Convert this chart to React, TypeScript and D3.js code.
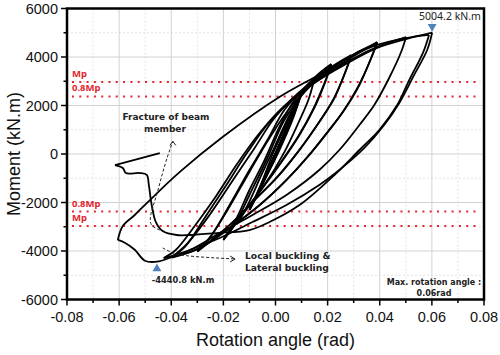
import React from 'react';
import * as d3 from 'd3';

const W = 500;
const H = 355;

// ---------- axis data ----------
const xTicks = [-0.08, -0.06, -0.04, -0.02, 0, 0.02, 0.04, 0.06, 0.08];
const xMinor = [-0.07, -0.05, -0.03, -0.01, 0.01, 0.03, 0.05, 0.07];
const yTicks = [-6000, -4000, -2000, 0, 2000, 4000, 6000];
const yMinor = [-5000, -3000, -1000, 1000, 3000, 5000];

// ---------- reference moment levels ----------
const refLabels = ['Mp', '0.8Mp', '0.8Mp', 'Mp'];
const refValues = [2970, 2376, -2376, -2970];

// ---------- hysteresis (rotation rad, moment kN.m) ----------
const smallCycles: [number, number][] = [
  [0, 0], [0.0038, 900], [-0.0038, -880], [0.005, 1200], [-0.005, -1180], [0.0075, 1800], [-0.0075, -1760],
];
const cycle010: [number, number][] = [
  [-0.003, -700], [0.002, 500], [0.0065, 1550], [0.01, 2515],
  [0.0065, 1400], [0.0015, 165], [-0.0042, -1070], [-0.01, -2310],
  [-0.0061, -1485], [-0.0011, -250], [0.0046, 1195], [0.01, 2480],
  [0.006, 1350], [0.001, 100], [-0.0045, -1150], [-0.01, -2290],
];
const cycle015: [number, number][] = [
  [-0.0054, -1195], [-0.0004, 165], [0.0054, 1485], [0.0103, 2555], [0.0149, 3095],
  [0.0126, 2225], [0.0084, 1195], [0.0034, 80], [-0.0042, -1280], [-0.01, -2105], [-0.0149, -2885],
];
const cycle020: [number, number][] = [
  [-0.0107, -2105], [-0.0054, -865], [0, 370], [0.0054, 1610], [0.0111, 2640], [0.0161, 3260], [0.0214, 3710],
  [0.0191, 2970], [0.0149, 1900], [0.0092, 785], [0.0015, -455], [-0.0061, -1565], [-0.0138, -2640], [-0.0199, -3505],
  [-0.0153, -2720], [-0.01, -1485], [-0.0042, -250], [0.0015, 1115], [0.0073, 2225], [0.0149, 3135], [0.0214, 3670],
  [0.0188, 2930], [0.0145, 1860], [0.0088, 740], [0.001, -500], [-0.0065, -1600], [-0.014, -2680], [-0.02, -3545],
];
const cycle030: [number, number][] = [
  [-0.0157, -2930], [-0.01, -1690], [-0.0031, -165], [0.0034, 1400], [0.0111, 2555], [0.0199, 3465], [0.0291, 4080],
  [0.0268, 3380], [0.0226, 2310], [0.0168, 1320], [0.0092, 165], [0.0015, -865], [-0.008, -1900], [-0.0176, -2930], [-0.0299, -4000],
  [-0.0245, -3340], [-0.0176, -2105], [-0.01, -660], [-0.0031, 575], [0.0034, 1815], [0.0111, 2720], [0.0199, 3465], [0.0291, 4040],
  [0.0265, 3300], [0.0222, 2250], [0.0163, 1250], [0.0088, 120], [0.001, -900], [-0.0085, -1950], [-0.018, -2970], [-0.03, -4020],
];
const cycle040: [number, number][] = [
  [-0.0253, -3465], [-0.0184, -2310], [-0.01, -740], [-0.0023, 660], [0.0061, 1980], [0.0161, 3050], [0.0264, 3795], [0.039, 4620],
  [0.0367, 3960], [0.0322, 2845], [0.0264, 1815], [0.0207, 990], [0.013, -40], [0.0042, -1070], [-0.0061, -2105], [-0.0176, -3050], [-0.0291, -3875], [-0.0398, -4250],
  [-0.0337, -3670], [-0.0253, -2515], [-0.0168, -1155], [-0.008, 250], [-0.0004, 1485], [0.0092, 2555], [0.0207, 3465], [0.0302, 4125], [0.039, 4580],
  [0.0365, 3900], [0.0318, 2800], [0.026, 1760], [0.0202, 940], [0.0125, -90], [0.0038, -1120], [-0.0065, -2150], [-0.018, -3090], [-0.0295, -3900], [-0.0398, -4270],
];
const cycle050: [number, number][] = [
  [-0.0345, -3795], [-0.0272, -2640], [-0.0191, -1320], [-0.0107, 80], [-0.0023, 1320], [0.0077, 2350], [0.0188, 3215], [0.0302, 3960], [0.0398, 4450], [0.0501, 4825],
  [0.0482, 4205], [0.0436, 3135], [0.0379, 2020], [0.0322, 1195], [0.0245, 165], [0.0168, -660], [0.0042, -1690], [-0.0088, -2515], [-0.0214, -3260], [-0.0329, -3960], [-0.0429, -4290],
];
const cycle060a: [number, number][] = [
  [-0.0383, -3960], [-0.031, -2970], [-0.0233, -1815], [-0.0145, -370], [-0.0061, 865], [0.0034, 1980], [0.0149, 2930], [0.0264, 3670], [0.039, 4370], [0.0501, 4740], [0.0601, 5004],
  [0.0582, 4290], [0.0532, 3260], [0.0475, 2105], [0.0417, 1195], [0.0341, 250], [0.0245, -660], [0.0168, -1280], [0.0042, -2105], [-0.0088, -2805], [-0.0214, -3465], [-0.0329, -3960], [-0.0398, -4250], [-0.0455, -4441], [-0.0501, -4400],
  [-0.054, -3950], [-0.058, -3650], [-0.0605, -3545],
];
const cycle060b: [number, number][] = [
  [-0.0586, -2970], [-0.054, -2515], [-0.0482, -1900], [-0.0367, -740], [-0.0203, 700], [0.0015, 2350], [0.018, 3340], [0.0291, 4040], [0.039, 4500], [0.0501, 4780], [0.0589, 4910],
  [0.0567, 4205], [0.0513, 3050], [0.0467, 2020], [0.0398, 990], [0.0322, 165], [0.0226, -865], [0.0092, -2105], [-0.0023, -2805], [-0.01, -3135], [-0.0226, -3260], [-0.0329, -3340], [-0.0379, -3340],
  [-0.0433, -3175], [-0.0459, -2805], [-0.0475, -2105], [-0.0486, -1280], [-0.0494, -865], [-0.0521, -785], [-0.0574, -785], [-0.0586, -575], [-0.0616, -455], [-0.0444, 40],
];

// ---------- annotations ----------
const posPeak: [number, number] = [0.0601, 5004];
const negPeak: [number, number] = [-0.0455, -4441];
const fractureArrow: [number, number][] = [
  [-0.0444, -3135], [-0.0482, -2970], [-0.0482, -2515], [-0.0455, -1690], [-0.0436, -865], [-0.0413, -40], [-0.0394, 520],
];
const bucklingArrow: [number, number][] = [
  [-0.0433, -3875], [-0.0406, -4020], [-0.0375, -4200], [-0.0155, -4330],
];

function splitAtTurns(pts: [number, number][]) {
  const segs: [number, number][][] = [];
  let cur: [number, number][] = [pts[0]];
  let dir = 0;
  for (let i = 1; i < pts.length; i++) {
    const d = Math.sign(pts[i][0] - pts[i - 1][0]);
    if (dir !== 0 && d !== 0 && d !== dir) {
      segs.push(cur);
      cur = [pts[i - 1]];
    }
    if (d !== 0) dir = d;
    cur.push(pts[i]);
  }
  segs.push(cur);
  return segs;
}

export default function App() {
  const L = 67, R = 484, T = 8.5, B = 299.5;
  const x = d3.scaleLinear().domain([-0.08, 0.08]).range([L, R]);
  const y = d3.scaleLinear().domain([-6000, 6000]).range([B, T]);

  const all = [
    ...smallCycles, ...cycle010, ...cycle015, ...cycle020, ...cycle030,
    ...cycle040, ...cycle050, ...cycle060a, ...cycle060b,
  ];
  const segs = splitAtTurns(all);
  const line = d3.line<[number, number]>()
    .x(d => x(d[0]))
    .y(d => y(d[1]))
    .curve(d3.curveCatmullRom.alpha(0.5));
  const smooth = d3.line<[number, number]>()
    .x(d => x(d[0]))
    .y(d => y(d[1]))
    .curve(d3.curveBasis);

  const tri = d3.symbol().type(d3.symbolTriangle).size(34)();
  const tickFont = "'Liberation Sans', Arial, sans-serif";
  const annFont = "'Noto Sans', 'Open Sans', sans-serif";
  const boldFont = "'DejaVu Sans', sans-serif";
  const red = '#e3262e';

  const fa = fractureArrow;
  const ba = bucklingArrow;
  const faEnd = [x(fa[fa.length - 1][0]), y(fa[fa.length - 1][1])];
  const baEnd = [x(ba[ba.length - 1][0]), y(ba[ba.length - 1][1])];

  return (
    <div style={{ position: 'absolute', left: 0, top: 0 }}>
      <svg width={W} height={H} style={{ display: 'block', background: '#fff' }}>
        <rect x={0} y={0} width={W} height={H} fill="#fff" />
        {/* minor grid */}
        {xMinor.map(v => (
          <line key={'xm' + v} x1={x(v)} x2={x(v)} y1={T} y2={B} stroke="#e4e4e4" strokeWidth={1} strokeDasharray="2,2" />
        ))}
        {yMinor.map(v => (
          <line key={'ym' + v} x1={L} x2={R} y1={y(v)} y2={y(v)} stroke="#e4e4e4" strokeWidth={1} strokeDasharray="2,2" />
        ))}
        {/* major grid */}
        {xTicks.map(v => (
          <line key={'xg' + v} x1={x(v)} x2={x(v)} y1={T} y2={B} stroke="#d2d2d2" strokeWidth={1} />
        ))}
        {yTicks.map(v => (
          <line key={'yg' + v} x1={L} x2={R} y1={y(v)} y2={y(v)} stroke="#d2d2d2" strokeWidth={1} />
        ))}

        {/* reference lines */}
        {refValues.map((v, i) => (
          <g key={'ref' + i}>
            <line x1={L + 5} x2={R - 4} y1={y(v)} y2={y(v)} stroke={red} strokeWidth={2} strokeDasharray="2,5.3" />
            <text x={L + 5} y={y(v) - 5} fill={red} fontFamily={annFont} fontWeight={700} fontSize={9.5}>{refLabels[i]}</text>
          </g>
        ))}

        {/* hysteresis */}
        {segs.map((s, i) => (
          <path key={'s' + i} d={line(s) || ''} fill="none" stroke="#000" strokeWidth={1.8} strokeLinejoin="round" />
        ))}

        {/* annotation arrows */}
        <path d={smooth(fa) || ''} fill="none" stroke="#222" strokeWidth={1} strokeDasharray="3,2" />
        <path d={`M${faEnd[0] - 3},${faEnd[1] + 4} L${faEnd[0]},${faEnd[1]} L${faEnd[0] + 3},${faEnd[1] + 4}`} fill="none" stroke="#222" strokeWidth={1} />
        <path d={smooth(ba) || ''} fill="none" stroke="#222" strokeWidth={1} strokeDasharray="3,2" />
        <path d={`M${baEnd[0] - 5},${baEnd[1] - 3} L${baEnd[0]},${baEnd[1]} L${baEnd[0] - 5},${baEnd[1] + 3}`} fill="none" stroke="#222" strokeWidth={1} />

        {/* peak markers */}
        <path d={tri || ''} transform={`translate(${x(posPeak[0])},${y(posPeak[1]) - 6}) rotate(180)`} fill="#4f81bd" />
        <path d={tri || ''} transform={`translate(${x(negPeak[0])},${y(negPeak[1]) + 7})`} fill="#4f81bd" />
        <text x={450} y={20} textAnchor="middle" fontFamily={annFont} fontSize={10.5} fill="#222">{`${posPeak[1] + 0.2} kN.m`}</text>
        <text x={183} y={283} textAnchor="middle" fontFamily={boldFont} fontWeight={700} fontSize={8.3} fill="#222">{`${negPeak[1] + 0.2} kN.m`}</text>

        <text x={166} y={120} textAnchor="middle" fontFamily={boldFont} fontWeight={700} fontSize={9} fill="#222">Fracture of beam</text>
        <text x={165} y={132} textAnchor="middle" fontFamily={boldFont} fontWeight={700} fontSize={9} fill="#222">member</text>
        <text x={245} y={259} fontFamily={boldFont} fontWeight={700} fontSize={9.2} fill="#222">Local buckling &amp;</text>
        <text x={245} y={271} fontFamily={boldFont} fontWeight={700} fontSize={9.2} fill="#222">Lateral buckling</text>
        <text x={434} y={285} textAnchor="middle" fontFamily={boldFont} fontWeight={700} fontSize={8} fill="#222">Max. rotation angle :</text>
        <text x={434} y={296} textAnchor="middle" fontFamily={boldFont} fontWeight={700} fontSize={8} fill="#222">0.06rad</text>

        {/* frame */}
        <rect x={L} y={T} width={R - L} height={B - T} fill="none" stroke="#000" strokeWidth={2.5} />
        {/* ticks */}
        {xTicks.map(v => (
          <line key={'xt' + v} x1={x(v)} x2={x(v)} y1={B} y2={B + 6} stroke="#000" strokeWidth={1.5} />
        ))}
        {xMinor.map(v => (
          <line key={'xmt' + v} x1={x(v)} x2={x(v)} y1={B} y2={B + 3.5} stroke="#000" strokeWidth={1.5} />
        ))}
        {yTicks.map(v => (
          <line key={'yt' + v} x1={L - 6} x2={L} y1={y(v)} y2={y(v)} stroke="#000" strokeWidth={1.5} />
        ))}
        {yMinor.map(v => (
          <line key={'ymt' + v} x1={L - 3.5} x2={L} y1={y(v)} y2={y(v)} stroke="#000" strokeWidth={1.5} />
        ))}
        {xTicks.map(v => (
          <text key={'xl' + v} x={x(v)} y={322} textAnchor="middle" fontFamily={tickFont} fontSize={14.5} fill="#111">{v.toFixed(2)}</text>
        ))}
        {yTicks.map(v => (
          <text key={'yl' + v} x={58} y={y(v) + 5} textAnchor="end" fontFamily={tickFont} fontSize={14.5} fill="#111">{String(v)}</text>
        ))}
        <text x={(L + R) / 2} y={346} textAnchor="middle" fontFamily={tickFont} fontSize={18} fill="#111">Rotation angle (rad)</text>
        <text transform={`translate(20,${(T + B) / 2}) rotate(-90)`} textAnchor="middle" fontFamily={tickFont} fontSize={18} fill="#111">Moment (kN.m)</text>
      </svg>
    </div>
  );
}
